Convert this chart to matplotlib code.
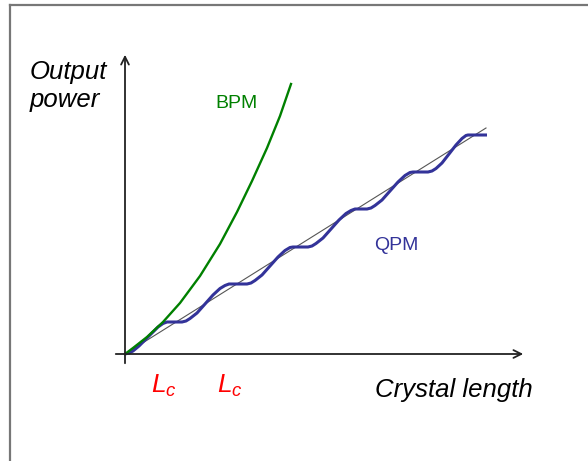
import numpy as np
import matplotlib.pyplot as plt
from matplotlib.lines import Line2D

plt.rcParams['font.family'] = ['Liberation Sans', 'DejaVu Sans']
plt.rcParams['mathtext.fontset'] = 'custom'
plt.rcParams['mathtext.it'] = 'Liberation Sans:italic'
plt.rcParams['mathtext.rm'] = 'Liberation Sans'

# Courbes (unités arbitraires, origine au croisement des axes)
bpm_x = [0, 8, 22, 38, 55, 75, 95, 112, 127, 142, 155, 166]
bpm_y = [0, 6, 17, 32, 51, 78, 110, 142, 173, 206, 238, 270]

qpm_x = [0, 4, 8, 14, 20, 27, 33, 38, 42, 45, 57,
         61, 65, 72, 80, 88, 95, 100, 104, 122,
         126, 130, 137, 145, 153, 160, 165, 168, 183,
         187, 191, 198, 206, 214, 221, 226, 230, 242,
         246, 250, 257, 265, 273, 280, 285, 288, 303,
         307, 311, 317, 324, 331, 337, 341, 343, 362]
qpm_y = [0, 1, 3, 8, 14, 21, 27, 30.5, 32, 32, 32,
         33, 35.5, 41, 50, 59, 65.5, 68.5, 70, 70,
         71, 73.5, 79, 88, 97, 103.5, 106.5, 107, 107,
         108, 110.5, 116, 125, 134, 140.5, 143.5, 145, 145,
         146, 148.5, 154, 163, 172, 178.5, 181.5, 182, 182,
         183, 185.5, 191, 200, 209, 215.5, 218.5, 219, 219]

ref_x = [0, 361]
ref_y = [0, 226]

lc_x = [26, 92]

fig = plt.figure(figsize=(5.88, 4.61), dpi=100)
ax = fig.add_axes([0, 0, 1, 1])
ax.set_xlim(-125, 463)
ax.set_ylim(-107, 354)
ax.set_axis_off()

# cadre
fig.add_artist(Line2D([10 / 588, 1], [1 - 5 / 461, 1 - 5 / 461], color='#777777', lw=1.6))
fig.add_artist(Line2D([10 / 588, 10 / 588], [0, 1 - 5 / 461], color='#777777', lw=1.6))

# axes avec fleches
ax.annotate('', xy=(0, 302), xytext=(0, -12),
            arrowprops=dict(arrowstyle='->', color='#222222', lw=1.3, mutation_scale=14))
ax.annotate('', xy=(401, 0), xytext=(-12, 0),
            arrowprops=dict(arrowstyle='->', color='#222222', lw=1.3, mutation_scale=14))

ax.plot(ref_x, ref_y, color='#555555', lw=0.8)
ax.plot(qpm_x, qpm_y, color='#333399', lw=2.2, solid_capstyle='butt', solid_joinstyle='round')
ax.plot(bpm_x, bpm_y, color='#008000', lw=1.7)

ax.text(-95, 275, 'Output', fontsize=18.5, style='italic', va='baseline')
ax.text(-95, 247, 'power', fontsize=18.5, style='italic', va='baseline')
ax.text(250, -43, 'Crystal length', fontsize=18.5, style='italic', va='baseline')
ax.text(90, 246, 'BPM', fontsize=14, color='#008000', va='baseline')
ax.text(249, 104, 'QPM', fontsize=14, color='#333399', va='baseline')
for x in lc_x:
    ax.text(x, -39, r'$L_c$', fontsize=19, color='#ff0000', va='baseline')

fig.savefig('out.png', dpi=100)
